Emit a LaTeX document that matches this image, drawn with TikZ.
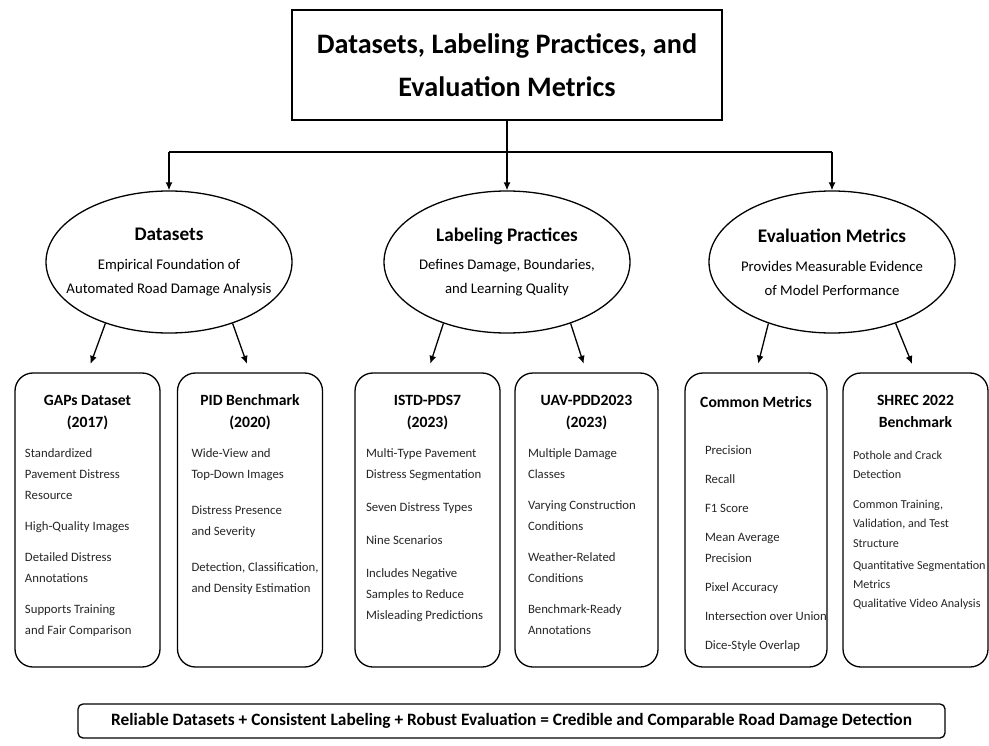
\documentclass[tikz,border=0pt]{standalone}
\usepackage{fontspec}
\setmainfont{Carlito}
\usetikzlibrary{positioning,shapes.geometric,arrows.meta}

\begin{document}
\begin{tikzpicture}[x=1bp, y=-1bp, line width=1.3bp,
	headbox/.style={draw, minimum width=430bp, minimum height=110bp, align=center, font=\bfseries\fontsize{28.3}{43}\selectfont},
	oval/.style={draw, ellipse, minimum width=246bp, minimum height=142bp, inner xsep=-16bp, inner ysep=0pt, align=center, font=\fontsize{14.8}{24}\selectfont},
	card/.style={draw, rounded corners=18bp, minimum width=145bp, minimum height=294bp},
	cardtitle/.style={align=center, inner sep=0pt, font=\bfseries\fontsize{15.7}{22}\selectfont},
	cardtext/.style={align=left, inner sep=0pt, anchor=north west, text=black!85, font=\fontsize{12.8}{21}\selectfont},
	footbox/.style={draw, rounded corners=5bp, minimum width=867bp, minimum height=34bp, font=\bfseries\fontsize{17.4}{19}\selectfont},
	arr/.style={-{Latex[length=8bp,width=7bp]}},
	]
	\useasboundingbox (0,0) rectangle (989,746);
	
	% main title
	\node[headbox] (head) at (507,65) {Datasets, Labeling Practices, and\\Evaluation Metrics};
	
	% three topics
	\node[oval] (ds) at (169,262) {\textbf{\fontsize{19.3}{20}\selectfont Datasets}\\[5bp] Empirical Foundation of\\Automated Road Damage Analysis};
	\node[oval] (lp) at (507,262) {\textbf{\fontsize{19.3}{20}\selectfont Labeling Practices}\\[5bp] Defines Damage, Boundaries,\\and Learning Quality};
	\node[oval] (em) at (832,262) {\textbf{\fontsize{19.3}{20}\selectfont Evaluation Metrics}\\[5bp] Provides Measurable Evidence\\of Model Performance};
	
	% split line
	\coordinate (dsin) at (169,152);
	\coordinate (emin) at (832,152);
	\draw (dsin) -- (emin);
	\draw[arr] (head) -- (lp);
	\draw[arr] (dsin) -- (ds);
	\draw[arr] (emin) -- (em);
	
	% cards
	\node[card] (gaps) at (87.5,520) {};
	\node[card] (pid) at (250,520) {};
	\node[card] (istd) at (427.5,520) {};
	\node[card, minimum width=143bp] (uav) at (586.5,520) {};
	\node[card, minimum width=142bp] (cm) at (756,520) {};
	\node[card] (shrec) at (915.5,520) {};
	
	% card titles
	\node[cardtitle, below=22bp of gaps.north] (gapstitle) {GAPs Dataset\\(2017)};
	\node[cardtitle, below=22bp of pid.north] (pidtitle) {PID Benchmark\\(2020)};
	\node[cardtitle, below=22bp of istd.north] (istdtitle) {ISTD-PDS7\\(2023)};
	\node[cardtitle, below=22bp of uav.north] (uavtitle) {UAV-PDD2023\\(2023)};
	\node[cardtitle, below=24bp of cm.north] (cmtitle) {Common Metrics};
	\node[cardtitle, below=22bp of shrec.north] (shrectitle) {SHREC 2022\\Benchmark};
	
	% card items
	\node[cardtext] (gapsitems) at ([xshift=10bp, yshift=-76bp]gaps.north west) {Standardized\\Pavement Distress\\Resource\\[10bp]High-Quality Images\\[10bp]Detailed Distress\\Annotations\\[10bp]Supports Training\\and Fair Comparison};
	\node[cardtext] (piditems) at ([xshift=14bp, yshift=-76bp]pid.north west) {Wide-View and\\Top-Down Images\\[15bp]Distress Presence\\and Severity\\[15bp]Detection, Classification,\\and Density Estimation};
	\node[cardtext] (istditems) at ([xshift=11bp, yshift=-76bp]istd.north west) {Multi-Type Pavement\\Distress Segmentation\\[12bp]Seven Distress Types\\[12bp]Nine Scenarios\\[12bp]Includes Negative\\Samples to Reduce\\Misleading Predictions};
	\node[cardtext] (uavitems) at ([xshift=13bp, yshift=-76bp]uav.north west) {Multiple Damage\\Classes\\[10bp]Varying Construction\\Conditions\\[10bp]Weather-Related\\Conditions\\[10bp]Benchmark-Ready\\Annotations};
	\node[cardtext] (cmitems) at ([xshift=20bp, yshift=-73bp]cm.north west) {Precision\\[8bp]Recall\\[8bp]F1 Score\\[8bp]Mean Average\\Precision\\[8bp]Pixel Accuracy\\[8bp]Intersection over Union\\[8bp]Dice-Style Overlap};
	\node[cardtext, font=\fontsize{12.2}{19.5}\selectfont] (shrecitems) at ([xshift=10bp, yshift=-78bp]shrec.north west) {Pothole and Crack\\Detection\\[10bp]Common Training,\\Validation, and Test\\Structure\\[2.5bp]Quantitative Segmentation\\Metrics\\Qualitative Video Analysis};
	
	% arrows to cards
	\draw[arr, shorten >=9bp] (ds.224) -- (gaps.north);
	\draw[arr, shorten >=9bp] (ds.316) -- (pid.north);
	\draw[arr, shorten >=9bp] (lp.224) -- (istd.north);
	\draw[arr, shorten >=9bp] (lp.316) -- (uav.north);
	\draw[arr, shorten >=9bp] (em.224) -- (cm.north);
	\draw[arr, shorten >=9bp] (em.316) -- (shrec.north);
	
	% summary line
	\node[footbox] (foot) at (511.5,721) {Reliable Datasets + Consistent Labeling + Robust Evaluation = Credible and Comparable Road Damage Detection};
\end{tikzpicture}
\end{document}
